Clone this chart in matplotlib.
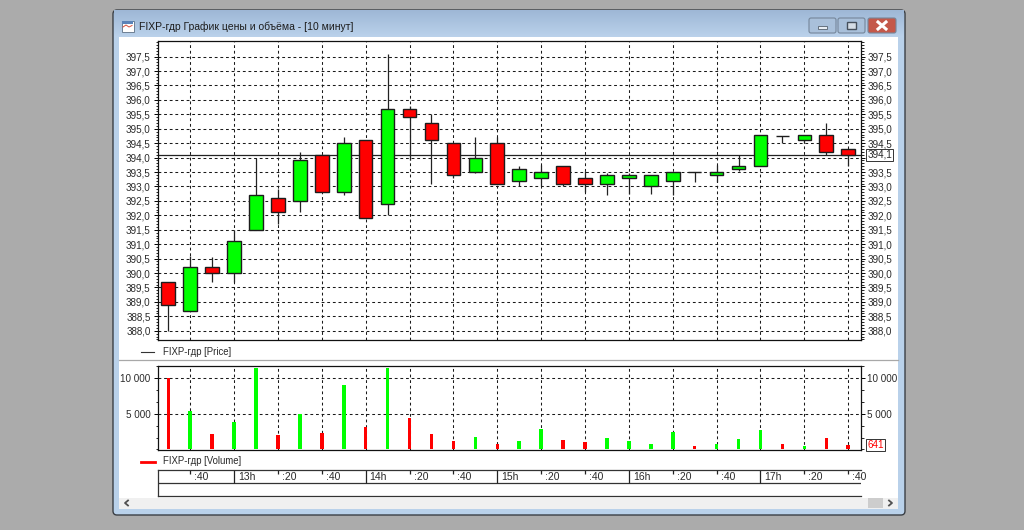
import numpy as np
import matplotlib
matplotlib.use('Agg')
import matplotlib.pyplot as plt
from matplotlib.patches import Rectangle, FancyBboxPatch
from matplotlib.ticker import MultipleLocator

plt.rcParams['font.family'] = ['Liberation Sans', 'DejaVu Sans']

W, H = 1024, 530
RED = '#ff0000'
GREEN = '#00ff00'
TXT = '#2a2a2a'

# 10 minute candles, 12:30 .. 17:40
bar_index = list(range(32))
opens = [389.7, 388.7, 390.2, 390.0, 391.5, 392.6, 392.5, 394.1, 392.8, 394.6, 392.4, 395.7, 395.2, 394.5, 393.5, 394.5,
         393.2, 393.3, 393.7, 393.3, 393.1, 393.3, 393.0, 393.2, 393.5, 393.4, 393.6, 393.7, 394.75, 394.6, 394.8, 394.3]
closes = [388.9, 390.2, 390.0, 391.1, 392.7, 392.1, 393.9, 392.8, 394.5, 391.9, 395.7, 395.4, 394.6, 393.4, 394.0, 393.1,
          393.6, 393.5, 393.1, 393.1, 393.4, 393.4, 393.4, 393.5, 393.5, 393.5, 393.7, 394.8, 394.75, 394.8, 394.2, 394.1]
highs = [389.7, 390.6, 390.55, 391.5, 394.0, 392.9, 394.2, 394.1, 394.7, 394.6, 397.6, 395.8, 395.5, 394.5, 394.7, 394.7,
         393.7, 393.75, 393.7, 393.55, 393.45, 393.45, 393.4, 393.5, 393.5, 393.75, 394.1, 394.8, 394.75, 394.8, 395.2, 394.3]
lows = [388.0, 388.7, 389.7, 389.7, 391.5, 391.7, 392.1, 392.8, 392.7, 391.9, 392.0, 393.9, 393.1, 393.3, 393.45, 393.1,
        393.0, 393.0, 393.0, 392.8, 392.7, 392.75, 392.75, 392.7, 393.15, 393.15, 393.55, 393.7, 394.5, 394.5, 394.1, 393.7]

volumes = [10000, 5400, 2150, 3900, 11350, 2000, 4900, 2250, 9000, 3100, 11350, 4350, 2150, 1150, 1800, 800,
           1200, 2850, 1300, 1050, 1550, 1150, 800, 2500, 550, 800, 1400, 2750, 700, 450, 1650, 641]
vol_colors = ['r', 'g', 'r', 'g', 'g', 'r', 'g', 'r', 'g', 'r', 'g', 'r', 'r', 'r', 'g', 'r',
              'g', 'g', 'r', 'r', 'g', 'g', 'g', 'g', 'r', 'g', 'g', 'g', 'r', 'g', 'r', 'r']

price_ticks = [388.0, 388.5, 389.0, 389.5, 390.0, 390.5, 391.0, 391.5, 392.0, 392.5,
               393.0, 393.5, 394.0, 394.5, 395.0, 395.5, 396.0, 396.5, 397.0, 397.5]
price_labels = ['388,0', '388,5', '389,0', '389,5', '390,0', '390,5', '391,0', '391,5', '392,0', '392,5',
                '393,0', '393,5', '394,0', '394,5', '395,0', '395,5', '396,0', '396,5', '397,0', '397,5']
vol_ticks = [5000, 10000]
vol_labels = ['5 000', '10 000']

time_ticks = [1, 3, 5, 7, 9, 11, 13, 15, 17, 19, 21, 23, 25, 27, 29, 31]
time_labels = [':40', '13h', ':20', ':40', '14h', ':20', ':40', '15h', ':20', ':40', '16h', ':20', ':40', '17h', ':20', ':40']

last_price = 394.1
last_volume = 641
title = 'FIXP-гдр График цены и объёма - [10 минут]'


def px_axes(x0, y0, x1, y1, **kw):
    return fig.add_axes([x0 / W, 1 - y1 / H, (x1 - x0) / W, (y1 - y0) / H], **kw)


fig = plt.figure(figsize=(W / 100, H / 100), dpi=100, facecolor='#ababab')

# window chrome, in pixels
chrome = px_axes(0, 0, W, H)
chrome.set_xlim(0, W)
chrome.set_ylim(H, 0)
chrome.axis('off')
chrome.add_patch(FancyBboxPatch((113, 10), 792, 505, boxstyle='round,pad=0,rounding_size=4',
                                fc='#b9d1ea', ec='#3a3f45', lw=1.0))
grad = np.linspace(0, 1, 28)[:, None, None] * (np.array([0.73, 0.82, 0.92]) - np.array([0.62, 0.72, 0.84])) \
    + np.array([0.62, 0.72, 0.84])
chrome.imshow(grad, extent=(114, 904, 37, 10.5), aspect='auto', zorder=1)
chrome.set_xlim(0, W)
chrome.set_ylim(H, 0)
chrome.add_patch(Rectangle((119, 36.5), 779, 472, fc='white', ec='none', zorder=2))
chrome.add_patch(Rectangle((119, 498), 779, 10.5, fc='#f0f0f0', ec='none', zorder=3))
chrome.add_patch(Rectangle((868, 498), 15, 9.5, fc='#cdcdcd', ec='none', zorder=4))
chrome.plot([128, 125, 128], [500.5, 503, 505.5], color='#505050', lw=1.3, zorder=4)
chrome.plot([889, 892, 889], [500.5, 503, 505.5], color='#505050', lw=1.3, zorder=4)
chrome.plot([119, 898], [360, 360], color='#a8a8a8', lw=0.9, zorder=3)

# caption buttons
for x0, x1, col in [(809, 836, '#a9c0da'), (838, 865, '#a9c0da'), (868, 896, '#c4584a')]:
    chrome.add_patch(FancyBboxPatch((x0, 18), x1 - x0, 15, boxstyle='round,pad=0,rounding_size=2',
                                    fc=col, ec='#75869a', lw=0.8, zorder=3))
chrome.add_patch(Rectangle((818, 26), 9, 3, fc='#e8eef4', ec='#56616e', lw=0.6, zorder=4))
chrome.add_patch(Rectangle((847, 21.5), 9, 7, fc='#d5dde6', ec='#46505c', lw=1.0, zorder=4))
chrome.plot([878, 886], [22, 29], color='white', lw=2.2, zorder=4)
chrome.plot([878, 886], [29, 22], color='white', lw=2.2, zorder=4)

# title icon
chrome.add_patch(Rectangle((121.5, 20.5), 12, 11, fc='white', ec='#6d7f94', lw=0.7, zorder=3))
chrome.add_patch(Rectangle((122, 21), 11, 2.5, fc='#5b83b8', ec='none', zorder=4))
chrome.plot([123, 126, 129, 132], [27, 25, 27, 25.5], color='#d8503c', lw=0.7, zorder=4)
chrome.text(139, 26.5, title, fontsize=7.5, color='#1c1c1c', va='center', ha='left', zorder=5)

# legends
chrome.plot([141, 154], [352, 352], color='#333333', lw=0.8, zorder=3)
chrome.text(163, 352, 'FIXP-гдр [Price]', fontsize=6.9, color=TXT, va='center', zorder=5)
chrome.plot([141, 155], [461.5, 461.5], color=RED, lw=2.0, zorder=3)
chrome.text(163, 461.5, 'FIXP-гдр [Volume]', fontsize=6.9, color=TXT, va='center', zorder=5)

AX_L, AX_R = 157.5, 860.5
xlim = (-0.492, 31.56)


def style_panel(ax):
    ax.set_xlim(*xlim)
    ax.set_axisbelow(True)
    ax.set_xticks(time_ticks)
    ax.tick_params(axis='x', length=0, labelbottom=False)
    ax.tick_params(axis='y', which='major', left=True, right=True, labelleft=True, labelright=True,
                   length=3.2, width=0.7, pad=1.8, labelsize=7.1, labelcolor=TXT)
    ax.tick_params(axis='y', which='minor', left=True, right=True, length=1.8, width=0.6)
    ax.grid(True, which='major', color='#1a1a1a', linewidth=0.75, linestyle=(0, (2.7, 2.7)))
    for s in ax.spines.values():
        s.set_linewidth(0.9)
        s.set_color('#111111')


# price panel
ax = px_axes(AX_L, 41, AX_R, 340)
ax.set_ylim(387.68, 398.04)
ax.set_yticks(price_ticks)
ax.set_yticklabels(price_labels)
ax.yaxis.set_minor_locator(MultipleLocator(0.1))
style_panel(ax)
# the last price box sits where the right 394,0 label would be
ax.yaxis.get_major_ticks()[price_ticks.index(394.0)].label2.set_visible(False)
ax.axhline(last_price, color='#222222', lw=0.9, zorder=1.5)
ax.vlines(bar_index, lows, highs, color='#222222', lw=0.9, zorder=2)
o = np.array(opens)
c = np.array(closes)
body_colors = [GREEN if b > a else RED for a, b in zip(opens, closes)]
ax.bar(bar_index, np.abs(c - o), 0.62, bottom=np.minimum(o, c), color=body_colors,
       edgecolor='#1c1c1c', linewidth=1.0, zorder=3)
ax.annotate(f'{last_price:.1f}'.replace('.', ','), xy=(1, last_price), xycoords=ax.get_yaxis_transform(),
            xytext=(7, 0), textcoords='offset pixels', fontsize=7.1, color=TXT, va='center', ha='left',
            annotation_clip=False, zorder=6,
            bbox=dict(boxstyle='square,pad=0.12', fc='white', ec='#333333', lw=0.7))

# volume panel
ax2 = px_axes(AX_L, 366, AX_R, 450.3)
ax2.set_ylim(-120, 11680)
ax2.set_yticks(vol_ticks)
ax2.set_yticklabels(vol_labels)
ax2.yaxis.set_minor_locator(MultipleLocator(5000 / 3))
style_panel(ax2)
ax2.bar(bar_index, volumes, 0.16, color=[RED if k == 'r' else GREEN for k in vol_colors], zorder=3)
ax2.annotate(str(last_volume), xy=(1, last_volume), xycoords=ax2.get_yaxis_transform(),
             xytext=(7, 0), textcoords='offset pixels', fontsize=7.1, color=RED, va='center', ha='left',
             annotation_clip=False, zorder=6,
             bbox=dict(boxstyle='square,pad=0.12', fc='white', ec='#333333', lw=0.7))

# time axis strip
ax3 = px_axes(AX_L, 470, AX_R, 496)
ax3.set_xlim(*xlim)
ax3.set_ylim(2, 0)
ax3.set_yticks([])
ax3.set_xticks([])
ax3.spines['right'].set_visible(False)
for s in ax3.spines.values():
    s.set_linewidth(0.9)
    s.set_color('#333333')
ax3.axhline(1, color='#333333', lw=0.9)
for t, lab in zip(time_ticks, time_labels):
    if lab.endswith('h'):
        ax3.vlines(t, 0, 1, color='#222222', lw=0.9)
    else:
        ax3.vlines(t, 0, 0.32, color='#222222', lw=0.9)
    ax3.annotate(lab, xy=(t, 0.5), xytext=(4, 0), textcoords='offset pixels', fontsize=7.5, color=TXT,
                 va='center', ha='left', annotation_clip=False)

fig.savefig('out.png', dpi=100, facecolor=fig.get_facecolor())
